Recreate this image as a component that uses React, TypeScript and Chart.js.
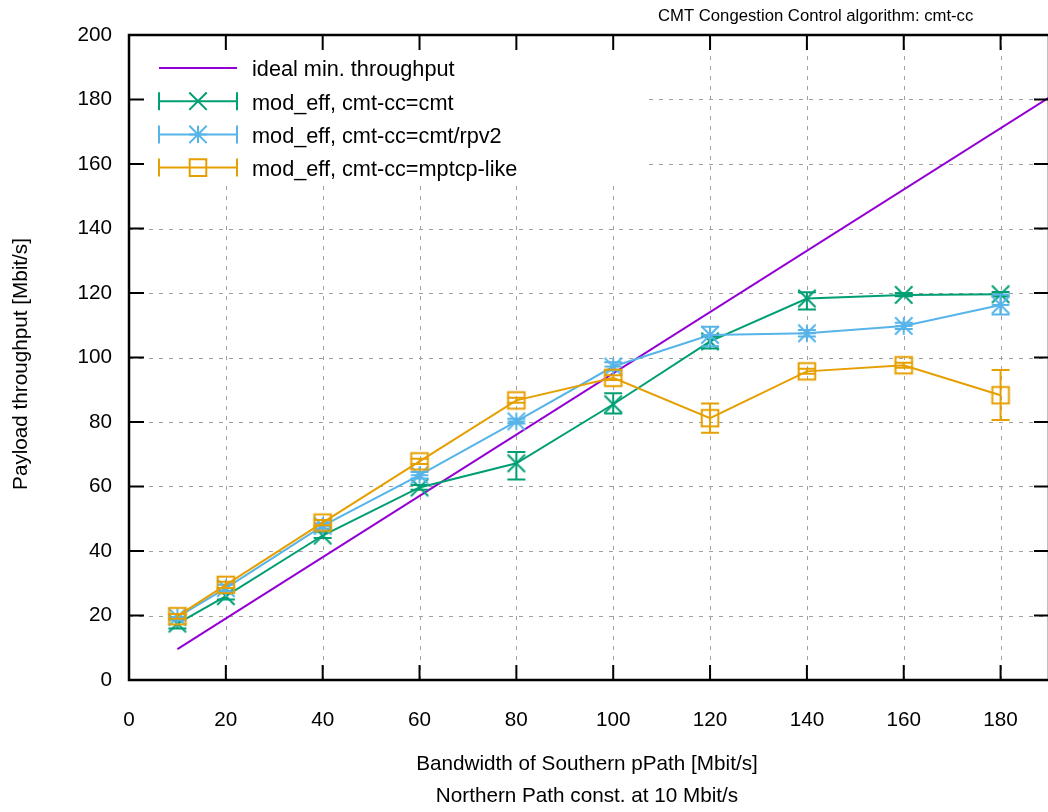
import React, { useEffect, useRef } from "react";
import { Chart, registerables } from "chart.js";

Chart.register(...registerables);

const FONT = "'Liberation Sans', Arial, Helvetica, sans-serif";

// Southern path bandwidth settings [Mbit/s]
const bandwidth = [10, 20, 40, 60, 80, 100, 120, 140, 160, 180];

// Axis tick values
const xTickValues = [0, 20, 40, 60, 80, 100, 120, 140, 160, 180];
const yTickValues = [0, 20, 40, 60, 80, 100, 120, 140, 160, 180, 200];

// Ideal minimum throughput reference line (end points)
const idealX = [10, 190];
const idealY = [9.6, 180.6];

// mod_eff, cmt-cc=cmt : mean and error bar bounds [Mbit/s]
const cmtMean = [17.5, 26.0, 44.8, 59.7, 67.2, 85.5, 105.0, 118.3, 119.4, 119.6];
const cmtLow = [16.0, 25.0, 44.0, 59.0, 62.2, 82.6, 102.8, 114.9, 119.0, 119.0];
const cmtHigh = [19.0, 27.5, 46.0, 60.5, 70.7, 88.9, 106.5, 120.2, 120.0, 120.3];

// mod_eff, cmt-cc=cmt/rpv2
const rpv2Mean = [19.5, 28.5, 47.8, 63.5, 80.2, 97.2, 107.0, 107.5, 109.8, 116.3];
const rpv2Low = [18.5, 27.5, 47.0, 62.5, 79.5, 96.0, 103.5, 106.5, 108.8, 113.3];
const rpv2High = [20.5, 29.5, 48.6, 64.5, 81.0, 98.5, 109.5, 108.5, 110.8, 119.5];

// mod_eff, cmt-cc=mptcp-like
const mptcpMean = [19.8, 29.5, 48.8, 67.8, 86.7, 93.7, 81.2, 95.7, 97.6, 88.3];
const mptcpLow = [19.0, 28.5, 48.0, 67.0, 86.0, 93.0, 76.7, 95.0, 96.8, 80.6];
const mptcpHigh = [20.5, 30.5, 49.6, 68.6, 87.5, 94.5, 85.7, 96.5, 98.4, 96.1];

const COLORS = {
  ideal: "#9400d3",
  cmt: "#009e73",
  rpv2: "#56b4e9",
  mptcp: "#e69f00",
};

type MarkerKind = "none" | "cross" | "star" | "box";

function strokeMarker(ctx: CanvasRenderingContext2D, kind: MarkerKind, x: number, y: number, color: string) {
  if (kind === "none") return;
  const s = 8.7;
  ctx.save();
  ctx.strokeStyle = color;
  ctx.lineWidth = 2;
  ctx.beginPath();
  if (kind === "cross" || kind === "star") {
    ctx.moveTo(x - s, y - s);
    ctx.lineTo(x + s, y + s);
    ctx.moveTo(x - s, y + s);
    ctx.lineTo(x + s, y - s);
  }
  if (kind === "star") {
    ctx.moveTo(x - s, y);
    ctx.lineTo(x + s, y);
    ctx.moveTo(x, y - s);
    ctx.lineTo(x, y + s);
  }
  if (kind === "box") {
    const b = 8.3;
    ctx.rect(x - b, y - b, 2 * b, 2 * b);
  }
  ctx.stroke();
  ctx.restore();
}

function markerCanvas(kind: MarkerKind, color: string) {
  const c = document.createElement("canvas");
  c.width = 24;
  c.height = 24;
  const g = c.getContext("2d");
  if (g) strokeMarker(g, kind, 12, 12, color);
  return c;
}

const series = [
  { label: "ideal min. throughput", color: COLORS.ideal, marker: "none" as MarkerKind, errors: false },
  { label: "mod_eff, cmt-cc=cmt", color: COLORS.cmt, marker: "cross" as MarkerKind, errors: true },
  { label: "mod_eff, cmt-cc=cmt/rpv2", color: COLORS.rpv2, marker: "star" as MarkerKind, errors: true },
  { label: "mod_eff, cmt-cc=mptcp-like", color: COLORS.mptcp, marker: "box" as MarkerKind, errors: true },
];

// Legend box region (key drawn over an opaque white background)
const KEY = { left: 130, top: 36, right: 645, bottom: 183, rowY: 68, rowStep: 33.2, sampleL: 159, sampleR: 237, textX: 252 };

const errorBarPlugin = {
  id: "errorBars",
  afterDatasetDraw(chart: any, args: any) {
    const ds = chart.data.datasets[args.index];
    if (!ds.errLow) return;
    const { ctx, chartArea } = chart;
    const xs = chart.scales.x;
    const ys = chart.scales.y;
    ctx.save();
    ctx.beginPath();
    ctx.rect(chartArea.left, chartArea.top, chartArea.right - chartArea.left, chartArea.bottom - chartArea.top);
    ctx.clip();
    ctx.strokeStyle = ds.borderColor;
    ctx.lineWidth = 2;
    ds.data.forEach((p: any, i: number) => {
      const px = xs.getPixelForValue(p.x);
      const lo = ys.getPixelForValue(ds.errLow[i]);
      const hi = ys.getPixelForValue(ds.errHigh[i]);
      ctx.beginPath();
      ctx.moveTo(px, lo);
      ctx.lineTo(px, hi);
      ctx.moveTo(px - 9, lo);
      ctx.lineTo(px + 9, lo);
      ctx.moveTo(px - 9, hi);
      ctx.lineTo(px + 9, hi);
      ctx.stroke();
    });
    ctx.restore();
  },
};

const framePlugin = {
  id: "gnuFrame",
  beforeDatasetsDraw(chart: any) {
    const { ctx, chartArea } = chart;
    const xs = chart.scales.x;
    const ys = chart.scales.y;
    ctx.save();
    ctx.strokeStyle = "#a0a0a0";
    ctx.lineWidth = 1;
    ctx.setLineDash([4, 6]);
    xTickValues.forEach((v) => {
      if (v <= 0) return;
      const px = Math.round(xs.getPixelForValue(v)) + 0.5;
      ctx.beginPath();
      ctx.moveTo(px, chartArea.bottom);
      ctx.lineTo(px, chartArea.top);
      ctx.stroke();
    });
    yTickValues.forEach((v) => {
      if (v <= 0 || v >= 200) return;
      const py = Math.round(ys.getPixelForValue(v)) + 0.5;
      ctx.beginPath();
      ctx.moveTo(chartArea.left, py);
      ctx.lineTo(chartArea.right, py);
      ctx.stroke();
    });
    ctx.setLineDash([]);
    // opaque key background
    ctx.fillStyle = "#ffffff";
    ctx.fillRect(KEY.left, KEY.top, KEY.right - KEY.left, KEY.bottom - KEY.top);
    ctx.restore();
  },
  afterDraw(chart: any) {
    const { ctx, chartArea } = chart;
    const xs = chart.scales.x;
    const ys = chart.scales.y;
    const { left, right, top, bottom } = chartArea;
    ctx.save();
    // border
    ctx.strokeStyle = "#000";
    ctx.lineWidth = 2.5;
    ctx.strokeRect(left, top, right - left, bottom - top);
    // inward ticks on all four sides
    ctx.lineWidth = 2;
    const tl = 15;
    xTickValues.forEach((v) => {
      const px = xs.getPixelForValue(v);
      ctx.beginPath();
      ctx.moveTo(px, bottom);
      ctx.lineTo(px, bottom - tl);
      ctx.moveTo(px, top);
      ctx.lineTo(px, top + tl);
      ctx.stroke();
    });
    yTickValues.forEach((v) => {
      const py = ys.getPixelForValue(v);
      ctx.beginPath();
      ctx.moveTo(left, py);
      ctx.lineTo(left + tl, py);
      ctx.moveTo(right, py);
      ctx.lineTo(right - tl, py);
      ctx.stroke();
    });

    // key
    ctx.font = `21.7px ${FONT}`;
    ctx.textAlign = "left";
    ctx.textBaseline = "alphabetic";
    series.forEach((s, i) => {
      const y = KEY.rowY + i * KEY.rowStep;
      ctx.strokeStyle = s.color;
      ctx.lineWidth = 2;
      ctx.beginPath();
      ctx.moveTo(KEY.sampleL, y);
      ctx.lineTo(KEY.sampleR, y);
      if (s.errors) {
        ctx.moveTo(KEY.sampleL, y - 9);
        ctx.lineTo(KEY.sampleL, y + 9);
        ctx.moveTo(KEY.sampleR, y - 9);
        ctx.lineTo(KEY.sampleR, y + 9);
      }
      ctx.stroke();
      strokeMarker(ctx, s.marker, (KEY.sampleL + KEY.sampleR) / 2, y, s.color);
      ctx.fillStyle = "#000";
      ctx.fillText(s.label, KEY.textX, y + 8.3);
    });

    // plot title
    ctx.font = `16.7px ${FONT}`;
    ctx.fillStyle = "#000";
    ctx.textAlign = "left";
    ctx.fillText("CMT Congestion Control algorithm: cmt-cc", 658, 21);

    // axis titles
    ctx.font = `20.7px ${FONT}`;
    ctx.textAlign = "center";
    ctx.fillText("Bandwidth of Southern pPath [Mbit/s]", 587, 770);
    ctx.fillText("Northern Path const. at 10 Mbit/s", 587, 802);

    ctx.translate(27, 364);
    ctx.rotate(-Math.PI / 2);
    ctx.fillText("Payload throughput [Mbit/s]", 0, 0);
    ctx.restore();
  },
};

function pts(xv: number[], yv: number[]) {
  return xv.map((x, i) => ({ x, y: yv[i] }));
}

export default function App() {
  const canvasRef = useRef<HTMLCanvasElement | null>(null);

  useEffect(() => {
    const canvas = canvasRef.current;
    if (!canvas) return;
    Chart.defaults.font.family = FONT;

    const chart = new Chart(canvas, {
      type: "line",
      data: {
        datasets: [
          {
            label: series[0].label,
            data: pts(idealX, idealY),
            borderColor: COLORS.ideal,
            borderWidth: 2,
            pointRadius: 0,
            order: 3,
          },
          {
            label: series[1].label,
            data: pts(bandwidth, cmtMean),
            borderColor: COLORS.cmt,
            borderWidth: 2,
            pointStyle: markerCanvas("cross", COLORS.cmt),
            pointRadius: 9,
            order: 2,
            errLow: cmtLow,
            errHigh: cmtHigh,
          } as any,
          {
            label: series[2].label,
            data: pts(bandwidth, rpv2Mean),
            borderColor: COLORS.rpv2,
            borderWidth: 2,
            pointStyle: markerCanvas("star", COLORS.rpv2),
            pointRadius: 9,
            order: 1,
            errLow: rpv2Low,
            errHigh: rpv2High,
          } as any,
          {
            label: series[3].label,
            data: pts(bandwidth, mptcpMean),
            borderColor: COLORS.mptcp,
            borderWidth: 2,
            pointStyle: markerCanvas("box", COLORS.mptcp),
            pointRadius: 9,
            order: 0,
            errLow: mptcpLow,
            errHigh: mptcpHigh,
          } as any,
        ],
      },
      options: {
        animation: false,
        responsive: false,
        devicePixelRatio: 1,
        layout: { padding: { left: 0, top: 35, right: 9, bottom: 0 } },
        plugins: {
          legend: { display: false },
          tooltip: { enabled: false },
          title: { display: false },
        },
        scales: {
          x: {
            type: "linear",
            min: 0,
            max: 190,
            afterBuildTicks: (s: any) => {
              s.ticks = xTickValues.map((v) => ({ value: v }));
            },
            afterFit: (s: any) => {
              s.height = 132;
            },
            grid: { display: false, drawTicks: false },
            border: { display: false },
            ticks: {
              color: "#000",
              padding: 28,
              maxRotation: 0,
              autoSkip: false,
              font: { size: 20.7, family: FONT },
            },
          },
          y: {
            type: "linear",
            min: 0,
            max: 200,
            afterBuildTicks: (s: any) => {
              s.ticks = yTickValues.map((v) => ({ value: v }));
            },
            afterFit: (s: any) => {
              s.width = 129;
            },
            grid: { display: false, drawTicks: false },
            border: { display: false },
            ticks: {
              color: "#000",
              padding: 17,
              autoSkip: false,
              font: { size: 20.7, family: FONT },
            },
          },
        },
      } as any,
      plugins: [errorBarPlugin, framePlugin],
    });

    return () => chart.destroy();
  }, []);

  return (
    <div
      style={{
        position: "fixed",
        left: 0,
        top: 0,
        width: 1048,
        height: 812,
        overflow: "hidden",
        background: "#fff",
      }}
    >
      <canvas ref={canvasRef} width={1060} height={812} style={{ display: "block", width: 1060, height: 812 }} />
    </div>
  );
}
